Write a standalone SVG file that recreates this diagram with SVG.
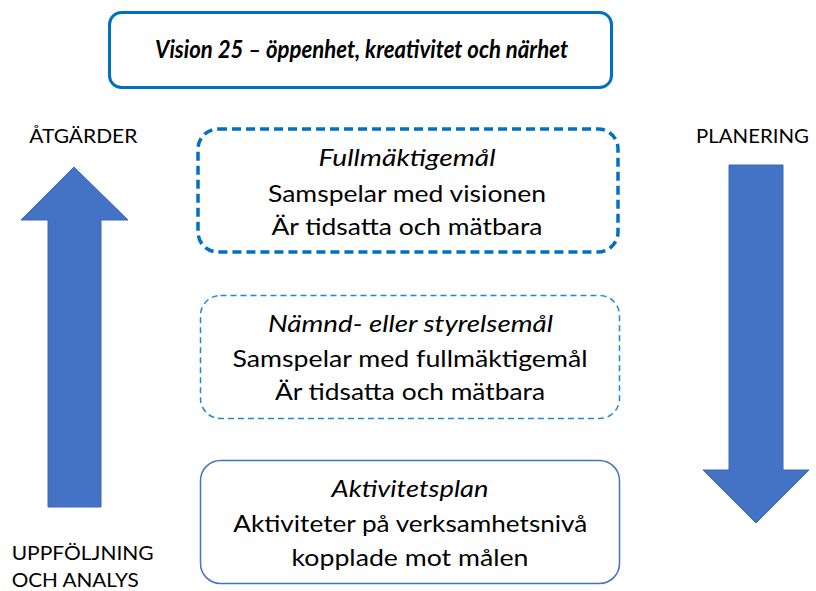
<svg xmlns="http://www.w3.org/2000/svg" width="816" height="591" viewBox="0 0 816 591">
<style>
text{font-family:Lato,"Liberation Sans",sans-serif;fill:#000;text-anchor:middle}
.body{font-size:22.5px}
.it{font-style:italic}
.lbl{font-size:19.5px}
.arrow{fill:#4472C4;stroke:#3B67B5;stroke-width:1}
</style>
<rect width="816" height="591" fill="#fff"/>
<g id="vision">
<rect x="109.5" y="12.5" width="502" height="75" rx="12" fill="#fff" stroke="#0070C0" stroke-width="3"/>
<text x="361.5" y="58" textLength="413" lengthAdjust="spacingAndGlyphs" style="font-size:25px;font-weight:bold;font-style:italic">Vision 25 – öppenhet, kreativitet och närhet</text>
</g>
<g id="fullmaktige">
<rect x="198" y="129" width="420" height="123" rx="20" fill="#fff" stroke="#0070C0" stroke-width="3.5" stroke-dasharray="9 5"/>
<text class="body it" x="407" y="166" textLength="177" lengthAdjust="spacingAndGlyphs">Fullmäktigemål</text>
<text class="body" x="407" y="201.5" textLength="278" lengthAdjust="spacingAndGlyphs">Samspelar med visionen</text>
<text class="body" x="407" y="235" textLength="271" lengthAdjust="spacingAndGlyphs">Är tidsatta och mätbara</text>
</g>
<g id="namnd">
<rect x="200.5" y="295.5" width="419" height="123" rx="20" fill="#fff" stroke="#1E88D8" stroke-width="1.5" stroke-dasharray="6 4"/>
<text class="body it" x="410.5" y="331.7" textLength="285" lengthAdjust="spacingAndGlyphs">Nämnd- eller styrelsemål</text>
<text class="body" x="410" y="366.7" textLength="355" lengthAdjust="spacingAndGlyphs">Samspelar med fullmäktigemål</text>
<text class="body" x="410" y="400" textLength="270" lengthAdjust="spacingAndGlyphs">Är tidsatta och mätbara</text>
</g>
<g id="aktivitetsplan">
<rect x="200.5" y="460.5" width="419" height="123" rx="20" fill="#fff" stroke="#4472C4" stroke-width="1.5"/>
<text class="body it" x="410" y="497.3" textLength="157" lengthAdjust="spacingAndGlyphs">Aktivitetsplan</text>
<text class="body" x="410.3" y="531.7" textLength="354" lengthAdjust="spacingAndGlyphs">Aktiviteter på verksamhetsnivå</text>
<text class="body" x="410" y="565.7" textLength="237" lengthAdjust="spacingAndGlyphs">kopplade mot målen</text>
</g>
<g id="connectors">
<g id="arrow-up">
<polygon class="arrow" points="74,167 128,220 101,220 101,507 48,507 48,220 21,220"/>
</g>
<g id="arrow-down">
<polygon class="arrow" points="729,165 783,165 783,470 809,470 756,523 703,470 729,470"/>
</g>
</g>
<g id="labels">
<text class="lbl" x="83.3" y="143" textLength="108" lengthAdjust="spacingAndGlyphs">ÅTGÄRDER</text>
<text class="lbl" x="11.7" y="559.5" textLength="142" lengthAdjust="spacingAndGlyphs" style="text-anchor:start">UPPFÖLJNING</text>
<text class="lbl" x="11.7" y="587" textLength="127" lengthAdjust="spacingAndGlyphs" style="text-anchor:start">OCH ANALYS</text>
<text class="lbl" x="752.5" y="143" textLength="113" lengthAdjust="spacingAndGlyphs">PLANERING</text>
</g>
</svg>
